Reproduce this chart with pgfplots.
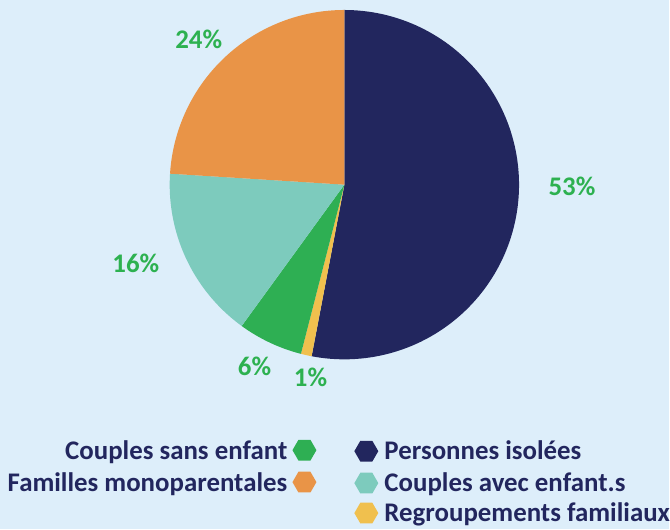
\documentclass[border=0pt]{standalone}
\usepackage{pgfplots}
\pgfplotsset{compat=1.18}
\usepackage{fontspec}
\setmainfont{Carlito}
\usetikzlibrary{shapes.geometric}
\definecolor{bg}{HTML}{DDEEFA}
\definecolor{navy}{HTML}{22265E}
\definecolor{cyel}{HTML}{F0C04E}
\definecolor{cgreen}{HTML}{2EAF53}
\definecolor{cteal}{HTML}{7DCBBD}
\definecolor{corange}{HTML}{E99447}
\definecolor{lgreen}{HTML}{2DB150}
\def\cumA{90}
\newcommand\slice[2]{%
  \pgfmathsetmacro\aStart{\cumA}%
  \pgfmathsetmacro\aEnd{\cumA-3.6*#1}%
  \edef\doit{\noexpand\addplot[fill=#2, draw=none, domain=\aEnd:\aStart, samples=120] ({cos(x)},{sin(x)}) -- (axis cs:0,0) -- cycle;}%
  \doit
  \global\let\cumA\aEnd
}
\begin{document}
\begin{tikzpicture}[font=\fontsize{27}{31}\selectfont\bfseries]
\fill[bg] (0bp,0bp) rectangle (670bp,-530bp);
\begin{axis}[hide axis, scale only axis, width=350bp, height=350bp,
  xmin=-1, xmax=1, ymin=-1, ymax=1, clip=false,
  at={(170bp,-360bp)}, anchor=south west]
\slice{53}{navy}
\slice{1}{cyel}
\slice{6}{cgreen}
\slice{16}{cteal}
\slice{24}{corange}
\node[text=lgreen] at (axis cs:1.303,-0.011) {53\%};
\node[text=lgreen] at (axis cs:-0.834,0.829) {24\%};
\node[text=lgreen] at (axis cs:-1.194,-0.451) {16\%};
\node[text=lgreen] at (axis cs:-0.514,-1.04) {6\%};
\node[text=lgreen] at (axis cs:-0.194,-1.103) {1\%};
\end{axis}
% legend
\tikzset{hex/.style={regular polygon, regular polygon sides=6, minimum size=24bp, inner sep=0pt, draw=none}}
\node[text=navy, anchor=base east, inner sep=0pt] at (288bp,-460bp) {Couples sans enfant};
\node[hex, fill=cgreen] at (305bp,-451bp) {};
\node[text=navy, anchor=base east, inner sep=0pt] at (288bp,-492bp) {Familles monoparentales};
\node[hex, fill=corange] at (305bp,-483bp) {};
\node[hex, fill=navy] at (367bp,-452bp) {};
\node[text=navy, anchor=base west, inner sep=0pt] at (385bp,-460bp) {Personnes isolées};
\node[hex, fill=cteal] at (367bp,-484bp) {};
\node[text=navy, anchor=base west, inner sep=0pt] at (385bp,-492bp) {Couples avec enfant.s};
\node[hex, fill=cyel] at (367bp,-514bp) {};
\node[text=navy, anchor=base west, inner sep=0pt] at (385bp,-522bp) {Regroupements familiaux};
\end{tikzpicture}
\end{document}
